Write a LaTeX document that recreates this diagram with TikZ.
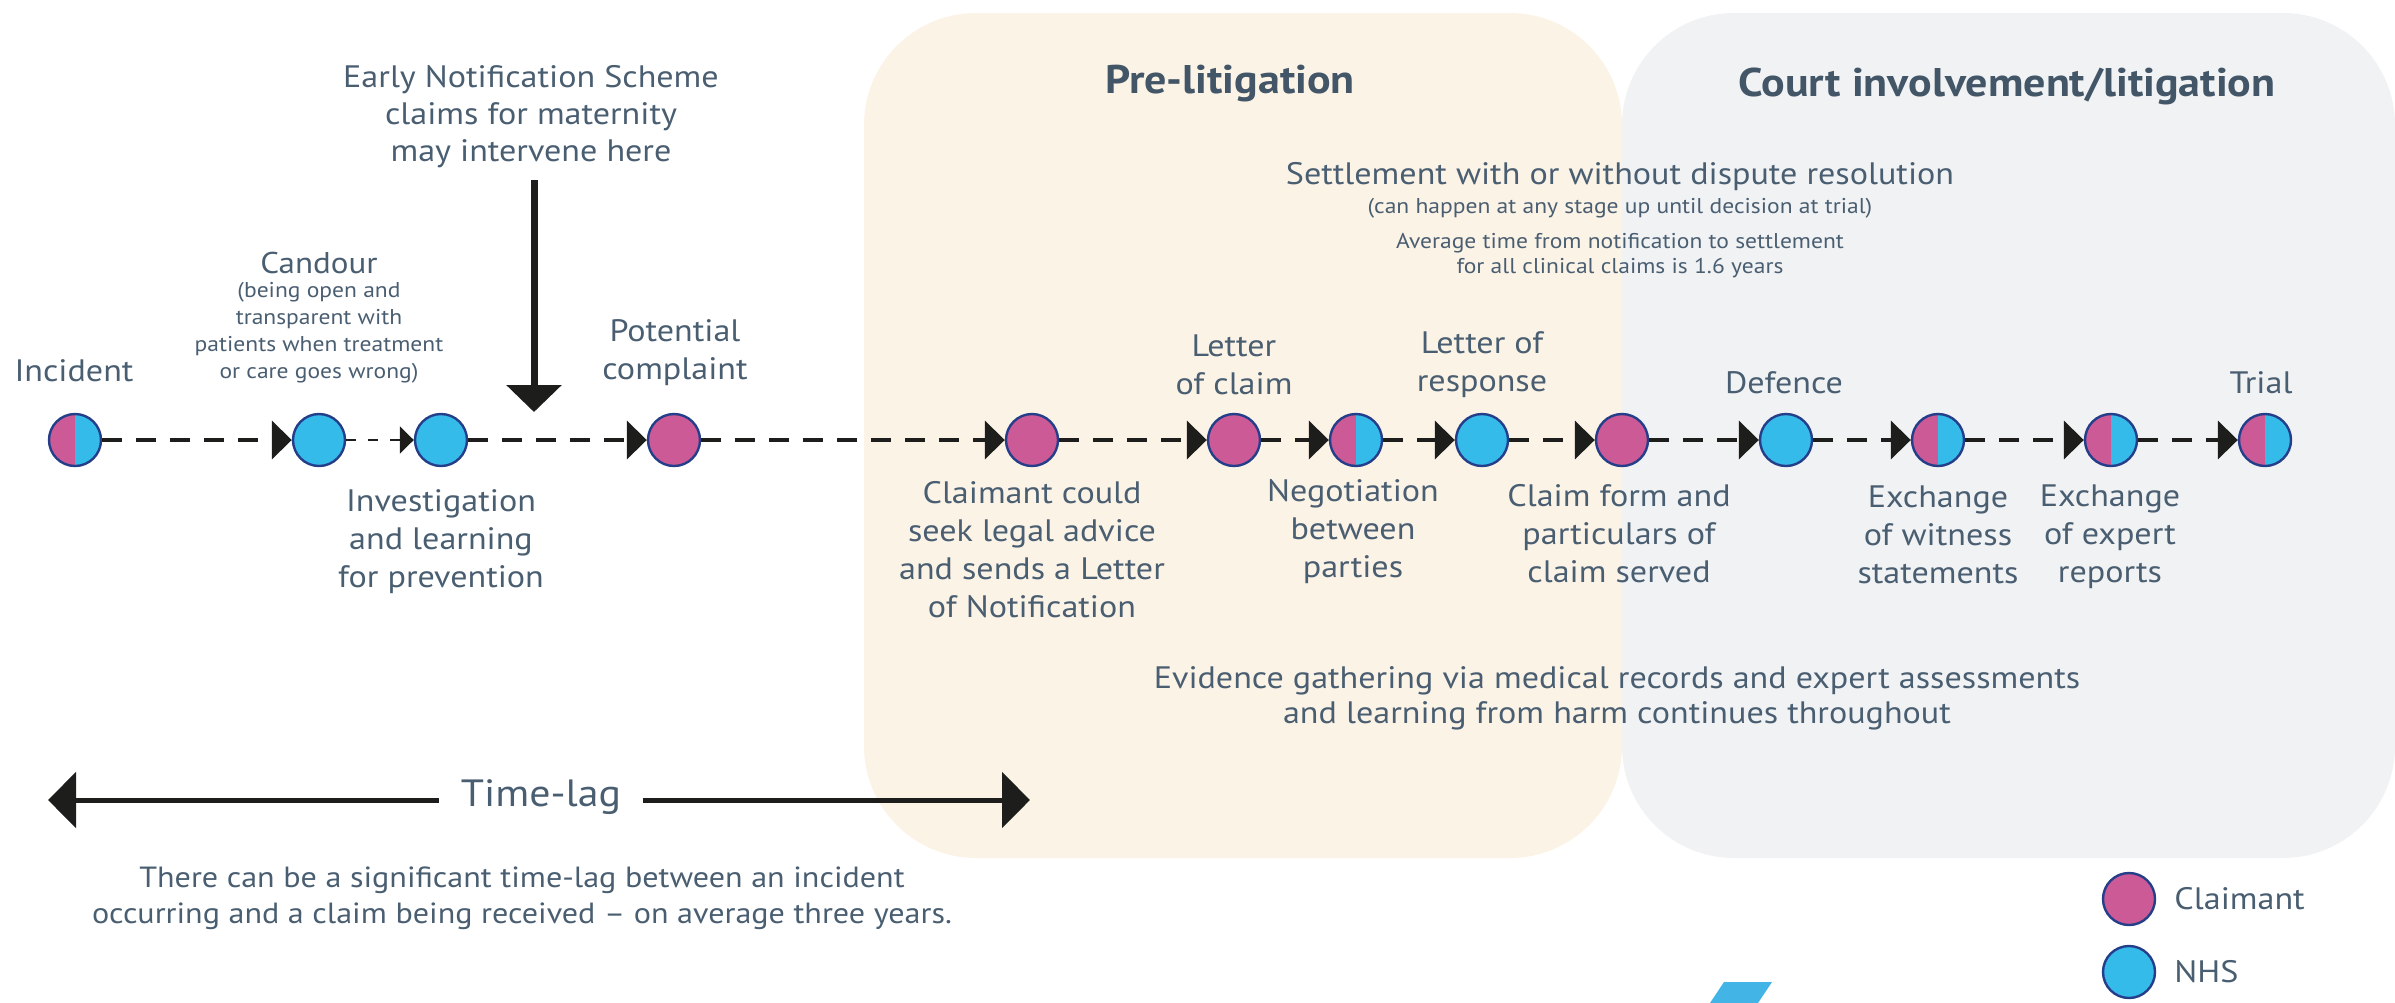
\documentclass[tikz,border=0pt]{standalone}
\usepackage{fontspec}
\setmainfont{PT Sans}[FakeStretch=1.1]
\usetikzlibrary{arrows.meta}

\definecolor{txt}{HTML}{4A5E71}
\definecolor{ttl}{HTML}{435668}
\definecolor{claimpink}{HTML}{CB5A96}
\definecolor{nhsblue}{HTML}{35BBEA}
\definecolor{navy}{HTML}{243E8A}
\definecolor{ink}{HTML}{1D1D1B}
\definecolor{prefill}{HTML}{FCF3E7}
\definecolor{courtfill}{HTML}{F1F2F4}
\definecolor{strayblue}{HTML}{42B4E6}

\newcommand\fsz[2]{\fontsize{#1}{#2}\selectfont}

\begin{document}
\begin{tikzpicture}[x=0.5pt,y=-0.5pt,
  lbl/.style={text=txt, align=center, font=\fsz{15.5}{19}, inner sep=0pt},
  small/.style={text=txt, align=center, font=\fsz{10.7}{13.5}, inner sep=0pt},
  title/.style={text=ttl, font=\bfseries\fsz{20}{23}, inner sep=0pt},
  dot/.style={circle, minimum size=26pt, inner sep=0pt, draw=navy, line width=1.2pt},
  claimant/.style={dot, fill=claimpink},
  nhs/.style={dot, fill=nhsblue},
  both/.style={dot, fill=nhsblue, path picture={\fill[claimpink]
     (path picture bounding box.south west) rectangle (path picture bounding box.north);}},
  conn/.style={draw=ink, line width=2pt, dash pattern=on 10pt off 7pt,
     -{Triangle[length=10pt,width=19pt]}},
  thinconn/.style={draw=ink, line width=1pt, dash pattern=on 5pt off 6pt,
     -{Triangle[length=7pt,width=13.5pt]}},
  lagarrow/.style={draw=ink, line width=2.5pt, -{Triangle[length=14pt,width=27.5pt]}},
  panel/.style={rounded corners=56pt}
]
\useasboundingbox (0,0) rectangle (2395,1002);

% stage panels
\fill[prefill, panel] (864,13) rectangle (1622,858);
\fill[courtfill, panel] (1622,13) rectangle (2395,858);

\node[title] (tPre) at (1230,84) {Pre-litigation};
\node[title] (tCourt) at (2007,86) {Court involvement/litigation};

% settlement notes
\node[lbl] (settle) at (1620,177) {Settlement with or without dispute resolution};
\node[small] (settleSub) at (1620,208) {(can happen at any stage up until decision at trial)};
\node[small, font=\fsz{10.7}{12.5}] (avg) at (1620,256) {Average time from notification to settlement\\for all clinical claims is 1.6 years};

% timeline points
\node[both]     (incident)  at (75,440)   {};
\node[nhs]      (candour)   at (319,440)  {};
\node[nhs]      (invest)    at (441,440)  {};
\node[claimant] (potential) at (674,440)  {};
\node[claimant] (advice)    at (1032,440) {};
\node[claimant] (loc)       at (1234,440) {};
\node[both]     (negot)     at (1356,440) {};
\node[nhs]      (lor)       at (1482,440) {};
\node[claimant] (claimform) at (1622,440) {};
\node[nhs]      (defence)   at (1786,440) {};
\node[both]     (witness)   at (1938,440) {};
\node[both]     (expert)    at (2111,440) {};
\node[both]     (trial)     at (2265,440) {};

% connectors
\draw[conn]     (incident)  -- (candour);
\draw[thinconn] (candour)   -- (invest);
\draw[conn]     (invest)    -- (potential);
\draw[conn]     (potential) -- (advice);
\draw[conn]     (advice)    -- (loc);
\draw[conn]     (loc)       -- (negot);
\draw[conn]     (negot)     -- (lor);
\draw[conn]     (lor)       -- (claimform);
\draw[conn]     (claimform) -- (defence);
\draw[conn]     (defence)   -- (witness);
\draw[conn]     (witness)   -- (expert);
\draw[conn]     (expert)    -- (trial);

% labels above the line
\node[lbl] (tIncident) at (74,371) {Incident};
\node[lbl, font=\fsz{15}{19}] (tCandour) at (319,263) {Candour};
\node[small] (tCandourSub) at (319,333) {(being open and\\transparent with\\patients when treatment\\or care goes wrong)};
\node[lbl, font=\fsz{15.5}{18.5}] (ens) at (531,117) {Early Notification Scheme\\claims for maternity\\may intervene here};
\node[lbl] (tPotential) at (675,353) {Potential\\complaint};
\node[lbl] (tLoc) at (1234,365) {Letter\\of claim};
\node[lbl] (tLor) at (1482,365) {Letter of\\response};
\node[lbl] (tDefence) at (1784,383) {Defence};
\node[lbl] (tTrial) at (2261,383) {Trial};

% labels below the line
\node[lbl] (tInvest) at (441,542) {Investigation\\and learning\\for prevention};
\node[lbl] (tAdvice) at (1032,550) {Claimant could\\seek legal advice\\and sends a Letter\\of Notification};
\node[lbl] (tNegot) at (1353,532) {Negotiation\\between\\parties};
\node[lbl] (tClaimform) at (1619,534) {Claim form and\\particulars of\\claim served};
\node[lbl] (tWitness) at (1938,535) {Exchange\\of witness\\statements};
\node[lbl] (tExpert) at (2110,537) {Exchange\\of expert\\reports};

% early notification arrow
\coordinate (ensTop) at (534,180);
\coordinate (ensTip) at (534,412);
\draw[draw=ink, line width=3.5pt, -{Triangle[length=13.5pt,width=27pt]}] (ensTop) -- (ensTip);

% evidence note
\node[lbl, font=\fsz{15.5}{17.5}] (evidence) at (1617,698) {Evidence gathering via medical records and expert assessments\\and learning from harm continues throughout};

% time-lag
\node[text=txt, font=\fsz{19}{22}, inner xsep=11pt, inner ysep=0pt] (lag) at (541,797) {Time-lag};
\coordinate (lagL) at (48,800);
\coordinate (lagR) at (1030,800);
\draw[lagarrow] (lag.west |- lagL) -- (lagL);
\draw[lagarrow] (lag.east |- lagR) -- (lagR);
\node[lbl, font=\fsz{14.6}{18}] (lagNote) at (522,898) {There can be a significant time-lag between an incident\\occurring and a claim being received – on average three years.};

% legend
\node[claimant] (legC) at (2129,899) {};
\node[nhs]      (legN) at (2129,972) {};
\node[lbl, anchor=west] (legCt) at (2174,899) {Claimant};
\node[lbl, anchor=west] (legNt) at (2174,972) {NHS};

% small blue shape at the lower edge
\fill[strayblue] (1724,982) -- (1772,982) -- (1752,1012) -- (1704,1012) -- cycle;
\end{tikzpicture}
\end{document}
